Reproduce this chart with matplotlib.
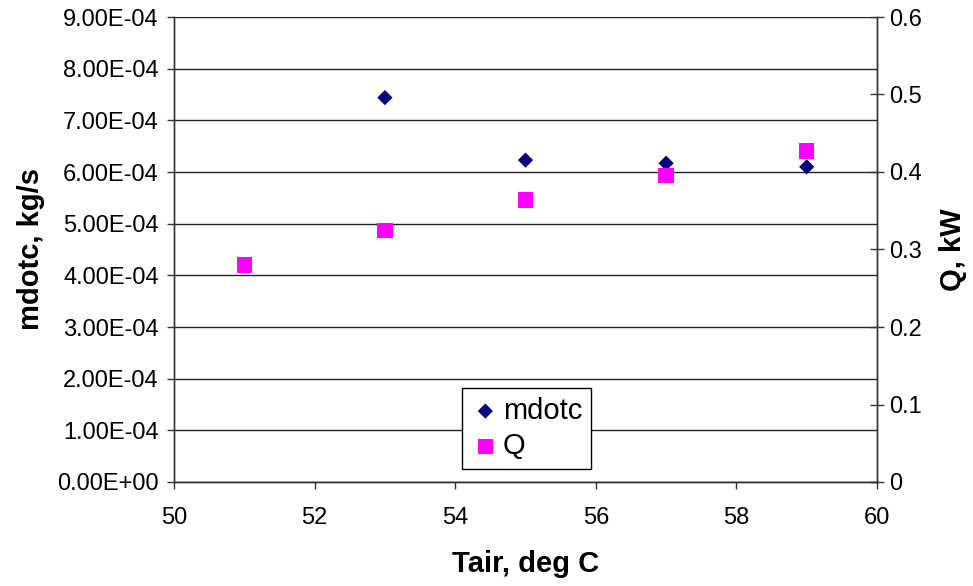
import matplotlib
matplotlib.use("Agg")
import matplotlib.pyplot as plt
from matplotlib.ticker import FuncFormatter, MultipleLocator

plt.rcParams['font.family'] = ['Liberation Sans', 'DejaVu Sans']

# Data
tair_mdotc = [53, 55, 57, 59]
mdotc = [7.44e-4, 6.23e-4, 6.17e-4, 6.10e-4]
tair_q = [51, 53, 55, 57, 59]
q_kw = [0.280, 0.325, 0.364, 0.395, 0.427]

fig = plt.figure(figsize=(9.73, 5.86), dpi=100)
ax = fig.add_axes([174/973, 104/586, 703/973, 465/586])
ax2 = ax.twinx()

line_col = '#333333'

ax.set_xlim(50, 60)
ax.set_ylim(0, 9e-4)
ax2.set_ylim(0, 0.6)
ax.xaxis.set_major_locator(MultipleLocator(2))
ax.yaxis.set_major_locator(MultipleLocator(1e-4))
ax2.yaxis.set_major_locator(MultipleLocator(0.1))

ax.yaxis.set_major_formatter(FuncFormatter(lambda v, p: f"{v:.2E}"))
ax2.yaxis.set_major_formatter(FuncFormatter(lambda v, p: f"{v:g}"))

ax.grid(axis='y', color='#222222', linewidth=1.0)
ax.set_axisbelow(True)

for a in (ax, ax2):
    for s in a.spines.values():
        s.set_color(line_col)
        s.set_linewidth(1.0)
ax.spines['top'].set_visible(False)
ax2.spines['top'].set_visible(False)

ax.tick_params(axis='both', direction='out', length=5, width=1, color=line_col,
               labelsize=17, pad=6)
ax2.tick_params(axis='y', direction='inout', length=10, width=1, color=line_col,
                labelsize=17, pad=4)
ax.tick_params(axis='x', pad=13)

h1 = ax.scatter(tair_mdotc, mdotc, marker='D', s=60, color='#000080',
                edgecolors='none', zorder=3, label='mdotc')
h2 = ax2.scatter(tair_q, q_kw, marker='s', s=120, color='#FF00FF',
                 edgecolors='none', zorder=3, label='Q')

ax.set_xlabel('Tair, deg C', fontsize=21, fontweight='bold', labelpad=15)
ax.set_ylabel('mdotc, kg/s', fontsize=21, fontweight='bold', labelpad=9)
ax2.set_ylabel('Q, kW', fontsize=21, fontweight='bold', labelpad=12)

leg = ax2.legend([h1, h2], ['mdotc', 'Q'], loc='upper left',
                 bbox_to_anchor=(288/703, (482-388)/465), fontsize=21,
                 frameon=True, fancybox=False, edgecolor='black',
                 handletextpad=0.1, borderpad=0.3, labelspacing=0.25,
                 handlelength=1.0, borderaxespad=0)
leg.get_frame().set_linewidth(1.0)
leg.get_frame().set_alpha(1)

fig.savefig('out.png', dpi=100)
